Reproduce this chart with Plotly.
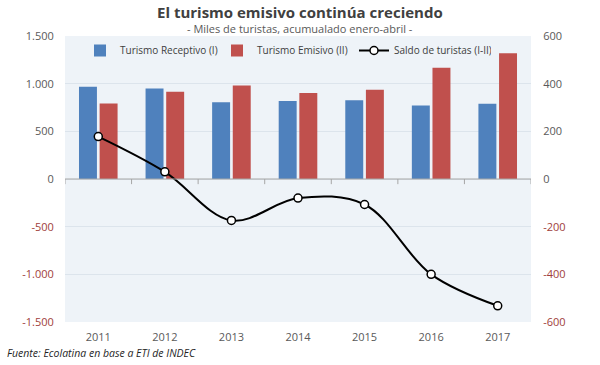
import plotly.graph_objects as go

years = ["2011", "2012", "2013", "2014", "2015", "2016", "2017"]
receptivo = [968, 950, 806, 817, 827, 772, 789]
emisivo = [792, 916, 982, 901, 937, 1168, 1319]
saldo = [178, 30, -174, -80, -107, -400, -532]

left_ticks = [1500, 1000, 500, 0, -500, -1000, -1500]
left_labels = ["1.500", "1.000", "500", "0", "-500", "-1.000", "-1.500"]
right_ticks = [600, 400, 200, 0, -200, -400, -600]
right_labels = ["600", "400", "200", "0", "-200", "-400", "-600"]

POS = "#595959"
NEG = "#A03E3B"

def colored(vals, labels):
    return [f"<span style='color:{NEG if v < 0 else POS}'>{t}</span>" for v, t in zip(vals, labels)]

fig = go.Figure()
fig.add_trace(go.Bar(x=years, y=receptivo, name="Turismo Receptivo (I)",
                     marker=dict(color="#4F81BD", line=dict(width=0))))
fig.add_trace(go.Bar(x=years, y=emisivo, name="Turismo Emisivo (II)",
                     marker=dict(color="#C0504D", line=dict(width=0))))
fig.add_trace(go.Scatter(x=years, y=saldo, name="Saldo de turistas (I-II)", yaxis="y2",
                         mode="lines+markers", line=dict(color="black", width=2, shape="spline", smoothing=1.0),
                         marker=dict(symbol="circle", size=8, color="white", line=dict(color="black", width=1.5))))

n = len(years)
shapes = [dict(type="line", xref="paper", yref="y", x0=0, x1=1, y0=0, y1=0,
               line=dict(color="#A6A6A6", width=1))]
for k in range(n + 1):
    shapes.append(dict(type="line", xref="x", yref="paper", x0=k - 0.5, x1=k - 0.5, y0=0.5, y1=0.482,
                       line=dict(color="#A6A6A6", width=1)))

PW = 466.0
XC = (300 - 65) / PW

fig.update_layout(
    width=600, height=365,
    margin=dict(l=65, r=69, t=36, b=43, autoexpand=False),
    paper_bgcolor="white",
    plot_bgcolor="#EEF3F8",
    font=dict(family="Open Sans", size=11, color=POS),
    barmode="group", bargap=0.38, bargroupgap=0.13,
    showlegend=True,
    legend=dict(orientation="h", x=(80 - 65) / PW, xanchor="left", y=1.0, yanchor="top",
                bgcolor="rgba(0,0,0,0)", font=dict(size=10, color="#404040"),
                itemwidth=30, entrywidth=92, tracegroupgap=0),
    shapes=shapes,
    xaxis=dict(type="category", range=[-0.5, n - 0.5], showgrid=False, zeroline=False,
               showline=False, ticks="outside", ticklen=5, tickcolor="rgba(0,0,0,0)",
               automargin=False, tickfont=dict(size=11, color=POS)),
    yaxis=dict(range=[-1500, 1500], tickvals=left_ticks, ticktext=colored(left_ticks, left_labels),
               showgrid=True, gridcolor="#DCE4EC", gridwidth=1, zeroline=False, automargin=False,
               ticks="outside", ticklen=8, tickcolor="rgba(0,0,0,0)", tickfont=dict(size=11)),
    yaxis2=dict(range=[-600, 600], tickvals=right_ticks, ticktext=colored(right_ticks, right_labels),
                overlaying="y", side="right", showgrid=False, zeroline=False, automargin=False,
                ticks="outside", ticklen=9, tickcolor="rgba(0,0,0,0)", tickfont=dict(size=11)),
    annotations=[
        dict(text="<b>El turismo emisivo continúa creciendo</b>", xref="paper", yref="paper",
             x=XC, y=1, yshift=24, xanchor="center", yanchor="middle",
             showarrow=False, font=dict(size=15, color="#404040", family="Open Sans")),
        dict(text="- Miles de turistas, acumualado enero-abril -", xref="paper", yref="paper",
             x=XC, y=1, yshift=8, xanchor="center", yanchor="middle",
             showarrow=False, font=dict(size=11, color="#595959", family="Open Sans")),
        dict(text="<i>Fuente: Ecolatina en base a ETI de INDEC</i>", xref="paper", yref="paper",
             x=-65 / PW, y=0, yshift=-31, xanchor="left", yanchor="middle", xshift=5,
             showarrow=False, font=dict(size=10.5, color="#1F1F1F", family="Open Sans")),
    ],
)

fig.write_html("out.html", config={"displayModeBar": False},
               post_script="document.body.style.margin='0';document.body.style.padding='0';")
